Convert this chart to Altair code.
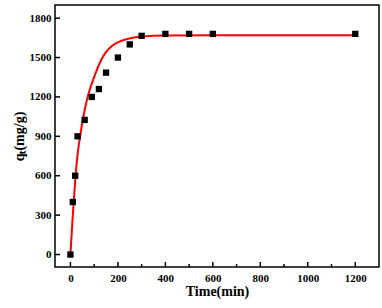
import altair as alt
import pandas as pd

# measured points
t_pts = [0, 10, 20, 30, 60, 90, 120, 150, 200, 250, 300, 400, 500, 600, 1200]
q_pts = [0, 400, 600, 900, 1025, 1200, 1260, 1385, 1500, 1600, 1665, 1680, 1680, 1680, 1680]

# fitted curve
t_fit = [0, 10, 20, 30, 40, 52, 73, 101, 130, 172, 256, 300, 400, 600, 1200]
q_fit = [0, 300, 560, 760, 890, 1026, 1203, 1356, 1483, 1584, 1648, 1660, 1668, 1670, 1670]

x_major = [0, 200, 400, 600, 800, 1000, 1200]
x_minor = [100, 300, 500, 700, 900, 1100]
y_major = [0, 300, 600, 900, 1200, 1500, 1800]

pts = pd.DataFrame({"t": t_pts, "q": q_pts})
fit = pd.DataFrame({"t": t_fit, "q": q_fit})
xmaj = pd.DataFrame({"v": x_major})
xmin = pd.DataFrame({"v": x_minor})
ymaj = pd.DataFrame({"v": y_major})

FONT = "Liberation Serif"
xs = alt.Scale(domain=[-65, 1300], nice=False, zero=False)
ys = alt.Scale(domain=[-95, 1900], nice=False, zero=False)

x_axis = alt.Axis(values=x_major, format="d", orient="bottom", ticks=False,
                  labelPadding=5, title="Time(min)", titlePadding=1)
y_axis = alt.Axis(values=y_major, format="d", orient="left", ticks=False,
                  labelPadding=4, title="qₜ(mg/g)", titlePadding=3)

curve = alt.Chart(fit).mark_line(color="#ff0000", strokeWidth=2, interpolate="monotone").encode(
    x=alt.X("t:Q", scale=xs, axis=x_axis),
    y=alt.Y("q:Q", scale=ys, axis=y_axis),
)
squares = alt.Chart(pts).mark_square(size=40, color="black", opacity=1).encode(
    x=alt.X("t:Q", scale=xs, axis=None),
    y=alt.Y("q:Q", scale=ys, axis=None),
)
# inward tick marks
xticks_major = alt.Chart(xmaj).mark_rule(color="black", strokeWidth=1.5).encode(
    x=alt.X("v:Q", scale=xs, axis=None), y=alt.value(262), y2=alt.value(257))
xticks_minor = alt.Chart(xmin).mark_rule(color="black", strokeWidth=1.5).encode(
    x=alt.X("v:Q", scale=xs, axis=None), y=alt.value(262), y2=alt.value(259))
yticks_major = alt.Chart(ymaj).mark_rule(color="black", strokeWidth=1.5).encode(
    y=alt.Y("v:Q", scale=ys, axis=None), x=alt.value(0), x2=alt.value(5))

chart = alt.layer(curve, squares, xticks_major, xticks_minor, yticks_major).resolve_axis(
    x="independent", y="independent").properties(
    width=324, height=262,
    autosize=alt.AutoSizeParams(type="none"),
    padding={"left": 55, "top": 5, "right": 3, "bottom": 41},
    background="white",
).configure_view(stroke="black", strokeWidth=1.5).configure_axis(
    domain=False, grid=False,
    labelFont=FONT, labelFontSize=11, labelFontWeight="bold", labelColor="black",
    titleFont=FONT, titleFontSize=14, titleFontWeight="bold", titleColor="black",
)

chart.save("out.html", embed_options={"renderer": "svg", "actions": False})
